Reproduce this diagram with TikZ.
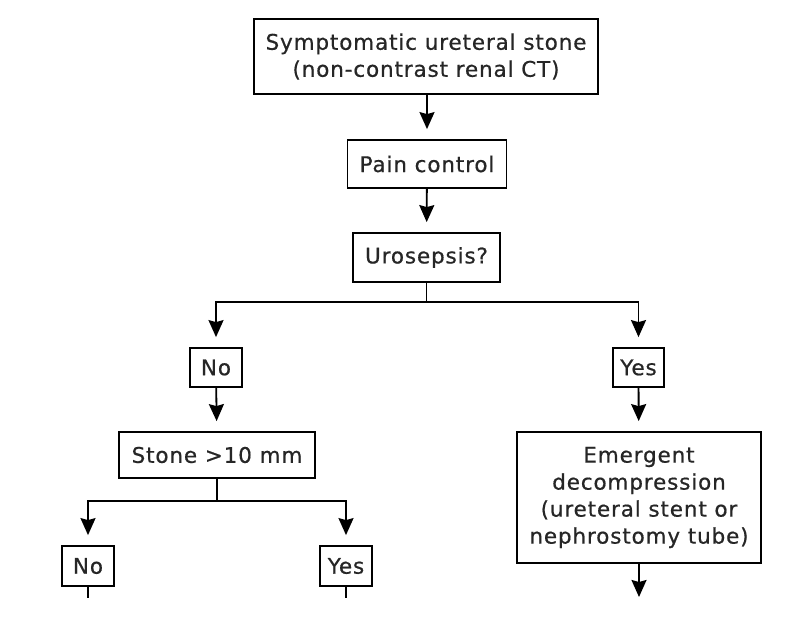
\documentclass[tikz,border=0pt]{standalone}
\usepackage{fontspec}
\setmainfont{DejaVu Sans}[FakeBold=0.6,LetterSpace=4]
\usetikzlibrary{arrows.meta}
\begin{document}
\begin{tikzpicture}[x=1pt,y=-1pt,
  box/.style={draw=black,line width=1.8pt,inner sep=0pt,align=center,text=black!85,
    font=\fontsize{21.5}{27}\selectfont},
  conn/.style={line width=1.8pt,draw=black},
  arr/.style={conn,-{Stealth[width=15pt,length=17pt,inset=2pt]},shorten >=10pt}]
\useasboundingbox[fill=white] (0,0) rectangle (801,642);
\node[box,minimum width=344pt,minimum height=75pt] (top) at (426,56.5) {Symptomatic ureteral stone\\(non-contrast renal CT)};
\node[box,minimum width=159pt,minimum height=48pt] (pain) at (427,164) {Pain control};
\node[box,minimum width=147pt,minimum height=49pt] (uro) at (426.5,257.5) {Urosepsis?};
\node[box,minimum width=52pt,minimum height=39pt] (no1) at (216,367.5) {No};
\node[box,minimum width=51pt,minimum height=39pt] (yes1) at (638.5,367.5) {Yes};
\node[box,minimum width=196pt,minimum height=46pt] (stone) at (217,455) {Stone >10 mm};
\node[box,minimum width=244pt,minimum height=131pt] (emerg) at (639,497.5) {Emergent\\decompression\\(ureteral stent or\\nephrostomy tube)};
\node[box,minimum width=52pt,minimum height=40pt] (no2) at (88,566) {No};
\node[box,minimum width=52pt,minimum height=40pt] (yes2) at (346,566) {Yes};
\coordinate (b1) at (426.5,302);
\coordinate (b2) at (217,501);
\coordinate (e1) at (88,598);
\coordinate (e2) at (346,598);
\coordinate (e3) at (639,607);
\draw[arr] (top.south -| pain) -- (pain);
\draw[arr] (pain) -- (uro);
\draw[conn] (uro) -- (b1);
\draw[arr] (b1) -| (no1);
\draw[arr] (b1) -| (yes1);
\draw[arr] (no1) -- (stone);
\draw[arr] (yes1) -- (emerg);
\draw[conn] (stone) -- (b2);
\draw[arr] (b2) -| (no2);
\draw[arr] (b2) -| (yes2);
\draw[conn] (no2) -- (e1);
\draw[conn] (yes2) -- (e2);
\draw[arr] (emerg) -- (e3);
\end{tikzpicture}
\end{document}
